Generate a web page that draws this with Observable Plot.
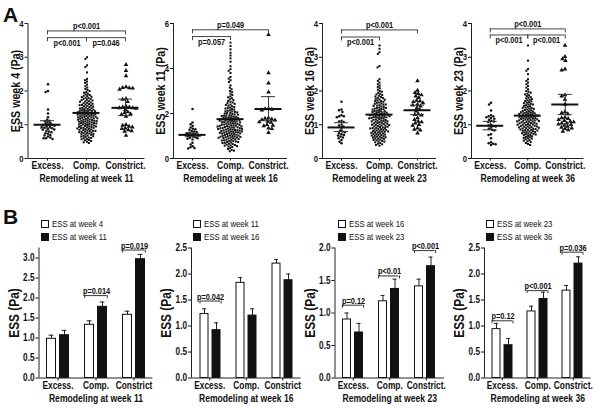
<!DOCTYPE html>
<html><head><meta charset="utf-8">
<script src="https://cdn.jsdelivr.net/npm/d3@7"></script>
<script src="https://cdn.jsdelivr.net/npm/@observablehq/plot@0.6"></script>
<style>
html,body{margin:0;padding:0;background:#fff;}
#fig{position:relative;width:600px;height:408px;overflow:hidden;background:#fff;color:#111;font-family:"Liberation Sans",Arial,sans-serif;}
#fig svg{position:absolute;}
.letter{position:absolute;font-family:"Liberation Sans",Arial,sans-serif;font-weight:bold;font-size:21px;line-height:1;}
.leg{position:absolute;font-size:9.5px;line-height:10px;height:10px;display:flex;align-items:center;white-space:nowrap;}
.leg .tx{display:inline-block;transform:scaleX(0.82);transform-origin:left center;}
.sw{display:inline-block;width:6px;height:6px;border:1px solid #111;margin-right:3px;}
</style></head><body><div id="fig"></div><script>
const FONT = '"Liberation Sans",Arial,sans-serif';
const NARROW = 0.82; // the figure uses a condensed (Arial Narrow-like) face
const catsA = ["Excess.", "Comp.", "Constrict."];

// ---------- Panel A data (ESS values per artery segment) ----------
const a1Excess = [2.2, 2.0, 1.97, 1.45, 1.33, 1.22, 1.15, 1.12, 1.1, 1.07, 1.05, 1.02, 1.0, 1.0, 0.99, 0.97, 0.95, 0.94, 0.93, 0.91, 0.9, 0.88, 0.86, 0.85, 0.82, 0.8, 0.78, 0.75, 0.73, 0.7, 0.68, 0.65, 0.62, 0.6, 0.6, 0.58];
const a1Comp = [3.0, 2.95, 2.76, 2.71, 2.55, 2.36, 2.32, 2.28, 2.24, 2.19, 2.14, 2.1, 2.06, 2.03, 2.0, 1.97, 1.95, 1.92, 1.9, 1.88, 1.86, 1.85, 1.83, 1.82, 1.8, 1.79, 1.77, 1.76, 1.74, 1.73, 1.72, 1.7, 1.69, 1.68, 1.66, 1.65, 1.64, 1.62, 1.61, 1.6, 1.59, 1.58, 1.57, 1.56, 1.55, 1.54, 1.52, 1.51, 1.5, 1.49, 1.48, 1.47, 1.46, 1.45, 1.44, 1.43, 1.42, 1.41, 1.4, 1.4, 1.39, 1.38, 1.37, 1.36, 1.35, 1.35, 1.34, 1.33, 1.32, 1.31, 1.3, 1.3, 1.29, 1.28, 1.27, 1.26, 1.25, 1.25, 1.24, 1.23, 1.22, 1.22, 1.21, 1.2, 1.19, 1.19, 1.18, 1.17, 1.16, 1.15, 1.15, 1.14, 1.13, 1.12, 1.12, 1.11, 1.1, 1.09, 1.09, 1.08, 1.07, 1.06, 1.05, 1.05, 1.04, 1.03, 1.02, 1.01, 1.01, 1.0, 0.99, 0.98, 0.97, 0.96, 0.95, 0.95, 0.94, 0.93, 0.92, 0.91, 0.91, 0.9, 0.89, 0.88, 0.87, 0.86, 0.85, 0.84, 0.83, 0.82, 0.82, 0.81, 0.8, 0.79, 0.78, 0.77, 0.76, 0.75, 0.74, 0.73, 0.72, 0.71, 0.7, 0.68, 0.67, 0.66, 0.65, 0.64, 0.62, 0.61, 0.6, 0.58, 0.57, 0.55, 0.54, 0.52, 0.5, 0.48, 0.46];
const a1Constrict = [2.78, 2.6, 2.45, 2.12, 2.1, 2.09, 2.05, 2.08, 1.77, 1.75, 1.68, 1.55, 1.52, 1.52, 1.5, 1.5, 1.48, 1.45, 1.38, 1.35, 1.32, 1.3, 1.25, 1.0, 0.98, 0.95, 0.93, 0.9, 0.88, 0.85, 0.82, 0.8, 0.68];
const a1Mean = [1.0, 1.35, 1.5], a1Lo = [0.9, 1.29, 1.27], a1Hi = [1.12, 1.42, 1.76];
const a1Brackets = [
  {from: 0, to: 2, level: 3.78, label: "p<0.001", side: "above"},
  {from: 0, to: 1, level: 3.58, label: "p<0.001", side: "below"},
  {from: 1, to: 2, level: 3.58, label: "p=0.046", side: "below"}];

const a2Excess = [2.2, 1.6, 1.52, 1.45, 1.38, 1.32, 1.3, 1.28, 1.22, 1.2, 1.18, 1.15, 1.12, 1.1, 1.08, 1.05, 1.05, 1.03, 1.02, 1.0, 0.98, 0.95, 0.92, 0.9, 0.88, 0.85, 0.7, 0.62, 0.55, 0.5, 0.47, 0.45];
const a2Comp = [5.15, 5.0, 4.85, 4.7, 4.58, 4.45, 4.3, 4.1, 3.97, 3.9, 3.8, 3.62, 3.55, 3.48, 3.4, 3.25, 3.15, 3.08, 3.0, 2.95, 2.88, 2.82, 2.76, 2.72, 2.68, 2.63, 2.6, 2.56, 2.52, 2.49, 2.46, 2.43, 2.4, 2.38, 2.35, 2.32, 2.29, 2.26, 2.24, 2.22, 2.2, 2.17, 2.14, 2.12, 2.1, 2.09, 2.07, 2.05, 2.03, 2.02, 2.0, 1.98, 1.96, 1.95, 1.93, 1.92, 1.9, 1.89, 1.88, 1.86, 1.85, 1.83, 1.82, 1.8, 1.79, 1.78, 1.76, 1.75, 1.74, 1.73, 1.71, 1.7, 1.69, 1.68, 1.67, 1.66, 1.65, 1.63, 1.62, 1.61, 1.6, 1.58, 1.57, 1.56, 1.55, 1.54, 1.52, 1.51, 1.5, 1.49, 1.48, 1.47, 1.46, 1.45, 1.44, 1.43, 1.42, 1.41, 1.4, 1.39, 1.38, 1.37, 1.36, 1.35, 1.34, 1.33, 1.32, 1.31, 1.3, 1.29, 1.28, 1.27, 1.26, 1.25, 1.24, 1.23, 1.22, 1.21, 1.2, 1.19, 1.18, 1.17, 1.16, 1.15, 1.14, 1.13, 1.12, 1.11, 1.1, 1.09, 1.08, 1.06, 1.05, 1.03, 1.02, 1.01, 1.0, 0.99, 0.98, 0.97, 0.96, 0.95, 0.94, 0.93, 0.92, 0.91, 0.9, 0.89, 0.87, 0.86, 0.84, 0.83, 0.81, 0.8, 0.78, 0.77, 0.76, 0.74, 0.73, 0.71, 0.7, 0.69, 0.66, 0.64, 0.62, 0.6, 0.58, 0.57, 0.55, 0.53, 0.51, 0.46, 0.42, 0.38, 0.35, 0.32];
const a2Constrict = [5.5, 3.8, 3.35, 2.95, 2.22, 2.2, 2.18, 2.15, 1.8, 1.78, 1.75, 1.72, 1.7, 1.65, 1.62, 1.6, 1.5, 1.47, 1.45, 1.35, 1.32, 1.15];
const a2Mean = [1.05, 1.75, 2.2], a2Lo = [0.97, 1.66, 1.68], a2Hi = [1.13, 1.84, 2.75];
const a2Brackets = [
  {from: 0, to: 2, level: 5.72, label: "p=0.049", side: "above"},
  {from: 0, to: 1, level: 5.42, label: "p=0.057", side: "below"}];

const a3Excess = [1.68, 1.45, 1.43, 1.38, 1.28, 1.25, 1.25, 1.22, 1.12, 1.1, 1.08, 1.0, 0.98, 0.95, 0.88, 0.82, 0.8, 0.78, 0.75, 0.72, 0.7, 0.68, 0.65, 0.62, 0.6, 0.55, 0.5, 0.45];
const a3Comp = [3.35, 3.25, 3.15, 3.1, 2.74, 2.7, 2.35, 2.3, 2.25, 2.2, 2.16, 2.12, 2.08, 2.04, 2.0, 1.98, 1.95, 1.92, 1.9, 1.88, 1.86, 1.84, 1.82, 1.8, 1.79, 1.77, 1.75, 1.74, 1.72, 1.7, 1.7, 1.68, 1.66, 1.65, 1.63, 1.62, 1.6, 1.6, 1.58, 1.57, 1.56, 1.54, 1.53, 1.51, 1.5, 1.5, 1.48, 1.47, 1.46, 1.45, 1.44, 1.42, 1.41, 1.4, 1.4, 1.38, 1.37, 1.36, 1.35, 1.34, 1.33, 1.32, 1.31, 1.3, 1.3, 1.29, 1.28, 1.27, 1.26, 1.25, 1.25, 1.24, 1.23, 1.22, 1.21, 1.2, 1.2, 1.19, 1.18, 1.17, 1.16, 1.15, 1.14, 1.13, 1.12, 1.11, 1.1, 1.1, 1.09, 1.08, 1.07, 1.06, 1.05, 1.04, 1.03, 1.02, 1.01, 1.0, 1.0, 0.99, 0.98, 0.97, 0.96, 0.95, 0.94, 0.93, 0.92, 0.91, 0.9, 0.9, 0.89, 0.88, 0.87, 0.86, 0.85, 0.84, 0.83, 0.82, 0.81, 0.8, 0.8, 0.79, 0.78, 0.77, 0.76, 0.75, 0.74, 0.73, 0.72, 0.71, 0.7, 0.69, 0.68, 0.67, 0.66, 0.65, 0.64, 0.63, 0.62, 0.61, 0.6, 0.59, 0.58, 0.56, 0.55, 0.54, 0.52, 0.51, 0.5, 0.48, 0.46, 0.44, 0.42, 0.4, 0.38];
const a3Constrict = [2.3, 2.02, 1.95, 1.92, 1.88, 1.85, 1.8, 1.72, 1.7, 1.68, 1.65, 1.6, 1.58, 1.55, 1.5, 1.45, 1.4, 1.32, 1.3, 1.28, 1.2, 1.15, 1.1, 1.08, 1.05, 1.0, 0.98, 0.9, 0.86, 0.84, 0.75];
const a3Mean = [0.92, 1.3, 1.43], a3Lo = [0.8, 1.22, 1.3], a3Hi = [1.06, 1.38, 1.58];
const a3Brackets = [
  {from: 0, to: 2, level: 3.81, label: "p<0.001", side: "above"},
  {from: 0, to: 1, level: 3.6, label: "p<0.001", side: "below"}];

const a4Excess = [1.65, 1.6, 1.42, 1.28, 1.25, 1.25, 1.22, 1.2, 1.18, 1.15, 1.12, 1.1, 1.08, 1.0, 0.98, 0.96, 0.95, 0.92, 0.88, 0.85, 0.83, 0.72, 0.7, 0.6, 0.48, 0.45, 0.44, 0.42, 0.4];
const a4Comp = [3.35, 2.9, 2.65, 2.6, 2.5, 2.35, 2.3, 2.25, 2.2, 2.15, 2.1, 2.05, 2.0, 1.98, 1.95, 1.92, 1.9, 1.87, 1.85, 1.82, 1.8, 1.78, 1.76, 1.74, 1.72, 1.7, 1.69, 1.67, 1.65, 1.64, 1.62, 1.6, 1.6, 1.58, 1.56, 1.55, 1.53, 1.51, 1.5, 1.5, 1.48, 1.47, 1.45, 1.44, 1.43, 1.41, 1.4, 1.39, 1.38, 1.37, 1.36, 1.35, 1.34, 1.33, 1.32, 1.31, 1.3, 1.3, 1.29, 1.28, 1.27, 1.26, 1.25, 1.25, 1.24, 1.23, 1.22, 1.21, 1.2, 1.2, 1.19, 1.18, 1.17, 1.16, 1.15, 1.15, 1.14, 1.13, 1.13, 1.12, 1.11, 1.1, 1.1, 1.09, 1.08, 1.07, 1.06, 1.05, 1.05, 1.04, 1.03, 1.02, 1.01, 1.0, 1.0, 0.99, 0.98, 0.97, 0.96, 0.95, 0.95, 0.94, 0.93, 0.92, 0.91, 0.9, 0.9, 0.89, 0.88, 0.87, 0.86, 0.85, 0.85, 0.84, 0.83, 0.82, 0.81, 0.8, 0.79, 0.78, 0.77, 0.76, 0.75, 0.74, 0.73, 0.72, 0.71, 0.7, 0.69, 0.67, 0.66, 0.64, 0.63, 0.61, 0.6, 0.59, 0.57, 0.55, 0.53, 0.51, 0.49, 0.46, 0.43, 0.4];
const a4Constrict = [3.35, 3.02, 2.95, 2.9, 2.65, 2.62, 1.88, 1.85, 1.75, 1.6, 1.38, 1.35, 1.32, 1.22, 1.2, 1.18, 1.15, 1.12, 1.1, 1.08, 1.05, 1.05, 1.02, 1.0, 0.98, 0.95, 0.92, 0.9, 0.88, 0.85, 0.8];
const a4Mean = [0.97, 1.27, 1.6], a4Lo = [0.85, 1.2, 1.3], a4Hi = [1.1, 1.35, 1.9];
const a4Brackets = [
  {from: 0, to: 2, level: 3.84, label: "p<0.001", side: "above"},
  {from: 0, to: 1, level: 3.66, label: "p<0.001", side: "below"},
  {from: 1, to: 2, level: 3.66, label: "p<0.001", side: "below"}];

// ---------- Panel B data (mean ESS + SEM) ----------
const b1Cats = ["Excess.", "Comp.", "Constrict"];
const b1Series = ["ESS at week 4", "ESS at week 11"];
const b1Prev = [0.98, 1.33, 1.58], b1PrevErr = [0.09, 0.1, 0.09];
const b1Next = [1.07, 1.78, 2.97], b1NextErr = [0.12, 0.12, 0.12];
const b1Brackets = [{cat: "Comp.", level: 2.06, label: "p=0.014"}, {cat: "Constrict", level: 3.2, label: "p=0.019"}];

const b2Cats = ["Excess.", "Comp.", "Constrict"];
const b2Series = ["ESS at week 11", "ESS at week 16"];
const b2Prev = [1.23, 1.83, 2.2], b2PrevErr = [0.1, 0.1, 0.08];
const b2Next = [0.92, 1.2, 1.88], b2NextErr = [0.14, 0.13, 0.12];
const b2Brackets = [{cat: "Excess.", level: 1.48, label: "p=0.042"}];

const b3Cats = ["Excess.", "Comp.", "Constrict."];
const b3Series = ["ESS at week 16", "ESS at week 23"];
const b3Prev = [0.9, 1.18, 1.41], b3PrevErr = [0.1, 0.09, 0.11];
const b3Next = [0.7, 1.37, 1.72], b3NextErr = [0.14, 0.15, 0.14];
const b3Brackets = [{cat: "Excess.", level: 1.12, label: "p=0.12"}, {cat: "Comp.", level: 1.57, label: "p<0.01"}, {cat: "Constrict.", level: 1.96, label: "p<0.001"}];

const b4Cats = ["Excess.", "Comp.", "Constrict."];
const b4Series = ["ESS at week 23", "ESS at week 36"];
const b4Prev = [0.94, 1.28, 1.68], b4PrevErr = [0.11, 0.1, 0.1];
const b4Next = [0.63, 1.52, 2.2], b4NextErr = [0.13, 0.13, 0.13];
const b4Brackets = [{cat: "Excess.", level: 1.1, label: "p=0.12"}, {cat: "Comp.", level: 1.68, label: "p<0.001"}, {cat: "Constrict.", level: 2.42, label: "p=0.036"}];

// ---------- layout ----------
const fig = document.getElementById("fig");
const st = () => ({fontFamily: FONT, fontWeight: "bold", background: "transparent", overflow: "visible", color: "#111"});
function place(el, left, top) {
  el.style.left = left + "px"; el.style.top = top + "px"; fig.appendChild(el);
  // condense every label horizontally (the original uses an Arial Narrow-like face)
  el.querySelectorAll("text").forEach(t => {
    const tr = t.getAttribute("transform");
    if (tr) t.setAttribute("transform", tr + ` scale(${NARROW},1)`);
    else {
      const w = t.getComputedTextLength();
      if (w > 0) { t.setAttribute("textLength", w * NARROW); t.setAttribute("lengthAdjust", "spacingAndGlyphs"); }
    }
  });
}

function drawA(p) {
  const W = 150, H = 190, mT = 23, mB = 32;
  const mL = p.start - p.left, mR = W - mL - 3 * p.bw;
  const dims = {width: W, height: H, marginTop: mT, marginBottom: mB, marginLeft: mL, marginRight: mR};
  const stats = p.mean.map((m, i) => ({i, m, lo: p.lo[i], hi: p.hi[i]}));
  const swarm = (vals, cat, symbol, r) => Plot.dot(vals, Plot.dodgeX({anchor: "middle", padding: 0.05},
    {fx: () => cat, y: d => d, r, symbol, fill: "#111", stroke: "none"}));
  const dots = Plot.plot({...dims, style: st(),
    fx: {domain: catsA, padding: 0, axis: null},
    y: {domain: [0, p.ymax], axis: null},
    marks: [swarm(p.excess, catsA[0], "circle", 1.25), swarm(p.comp, catsA[1], "square", 1.15), swarm(p.constrict, catsA[2], "triangle", 1.7)]});
  const above = p.brackets.filter(d => d.side === "above"), below = p.brackets.filter(d => d.side === "below");
  const base = Plot.plot({...dims, style: st(),
    x: {domain: [-0.5, 2.5]}, y: {domain: [0, p.ymax]},
    marks: [
      Plot.ruleY([0], {stroke: "#222"}),
      Plot.ruleX([-0.5], {stroke: "#222"}),
      Plot.axisY({ticks: p.yticks, tickFormat: d3.format("d"), tickSize: 3, tickPadding: 1.5, fontSize: 9.5, label: null}),
      Plot.axisX({ticks: [0, 1, 2], tickFormat: i => catsA[i], tickSize: 2.5, tickPadding: 0.5, fontSize: 10.5, label: null}),
      Plot.ruleX(stats, {x: "i", y1: "lo", y2: "hi", stroke: "#333"}),
      Plot.ruleY(stats, {x1: "i", x2: "i", y: "hi", insetLeft: -7, insetRight: -7, stroke: "#333"}),
      Plot.ruleY(stats, {x1: "i", x2: "i", y: "lo", insetLeft: -7, insetRight: -7, stroke: "#333"}),
      Plot.ruleY(stats, {x1: "i", x2: "i", y: "m", insetLeft: -13.5, insetRight: -13.5, strokeWidth: 2, stroke: "#111"}),
      Plot.ruleY(p.brackets, {x1: "from", x2: "to", y: "level", stroke: "#444"}),
      Plot.ruleX(p.brackets, {x: "from", y1: "level", y2: "level", insetBottom: -4, stroke: "#444"}),
      Plot.ruleX(p.brackets, {x: "to", y1: "level", y2: "level", insetBottom: -4, stroke: "#444"}),
      Plot.text(above, {x: d => (d.from + d.to) / 2, y: "level", text: "label", lineAnchor: "bottom", dy: -1.5, fontSize: 9, fill: "#111"}),
      Plot.text(below, {x: d => (d.from + d.to) / 2, y: "level", text: "label", lineAnchor: "top", dy: 2, fontSize: 9, fill: "#111"}),
      Plot.text([p.xlabel], {text: d => d, frameAnchor: "bottom", textAnchor: "middle", lineAnchor: "middle", dy: 20, fontSize: 10.5}),
      Plot.text([p.ylabel], {text: d => d, frameAnchor: "left", textAnchor: "middle", lineAnchor: "middle", rotate: -90, dx: -12.5, fontSize: 13})
    ]});
  place(dots, p.left, 0);
  place(base, p.left, 0);
}

function drawB(p) {
  const W = 155, H = 208, mT = 47.5, mB = 30.5, top = 200;
  const mL = p.start - p.left, mR = W - mL - 3 * p.bw;
  const dims = {width: W, height: H, marginTop: mT, marginBottom: mB, marginLeft: mL, marginRight: mR};
  const pIn = 0.3, pOut = 0.55;
  const barW = p.bw / (2 - pIn + 2 * pOut) * (1 - pIn);
  const rows = p.cats.flatMap((c, i) => [
    {cat: c, s: "a", v: p.prev[i], e: p.prevErr[i]},
    {cat: c, s: "b", v: p.next[i], e: p.nextErr[i]}]);
  const bars = Plot.plot({...dims, style: st(),
    fx: {domain: p.cats, padding: 0, axis: null},
    x: {domain: ["a", "b"], paddingInner: pIn, paddingOuter: pOut, axis: null},
    y: {domain: [0, p.ymax], axis: null},
    color: {domain: ["a", "b"], range: ["#ffffff", "#111111"]},
    marks: [
      Plot.ruleX(rows, {fx: "cat", x: "s", y1: "v", y2: d => d.v + d.e, stroke: "#222"}),
      Plot.ruleY(rows, {fx: "cat", x1: "s", x2: "s", y: d => d.v + d.e, insetLeft: barW * 0.22, insetRight: barW * 0.22, stroke: "#222"}),
      Plot.barY(rows, {fx: "cat", x: "s", y: "v", fill: "s", stroke: "#111", strokeWidth: 1}),
      Plot.ruleY(p.brackets, {fx: "cat", x1: () => "a", x2: () => "b", y: "level", stroke: "#333"}),
      Plot.ruleX(p.brackets, {fx: "cat", x: () => "a", y1: "level", y2: "level", insetBottom: -3, dx: -barW / 2, stroke: "#333"}),
      Plot.ruleX(p.brackets, {fx: "cat", x: () => "b", y1: "level", y2: "level", insetBottom: -3, dx: barW / 2, stroke: "#333"}),
      Plot.text(p.brackets, {fx: "cat", y: "level", text: "label", lineAnchor: "bottom", dy: -1.5, fontSize: 9, fill: "#111"})
    ]});
  const base = Plot.plot({...dims, style: st(),
    x: {domain: [-0.5, 2.5]}, y: {domain: [0, p.ymax]},
    marks: [
      Plot.ruleY([0], {stroke: "#222"}),
      Plot.ruleX([-0.5], {stroke: "#222"}),
      Plot.axisY({ticks: p.yticks, tickFormat: d3.format(".1f"), tickSize: 3, tickPadding: 1.5, fontSize: 10, label: null}),
      Plot.axisX({ticks: [0, 1, 2], tickFormat: i => p.cats[i], tickSize: 3, tickPadding: 1, fontSize: 10.2, label: null}),
      Plot.text([p.xlabel], {text: d => d, frameAnchor: "bottom", textAnchor: "middle", lineAnchor: "middle", dy: 21, fontSize: 10.5}),
      Plot.text(["ESS (Pa)"], {text: d => d, frameAnchor: "left", textAnchor: "middle", lineAnchor: "middle", rotate: -90, dx: -25, fontSize: 14.5})
    ]});
  place(bars, p.left, top);
  place(base, p.left, top);
  p.series.forEach((s, j) => {
    const row = document.createElement("div");
    row.className = "leg";
    row.style.left = p.legX + "px";
    row.style.top = (219 + j * 13) + "px";
    const sw = document.createElement("span");
    sw.className = "sw";
    sw.style.background = j === 0 ? "#fff" : "#111";
    const tx = document.createElement("span");
    tx.className = "tx";
    tx.textContent = s;
    row.appendChild(sw);
    row.appendChild(tx);
    fig.appendChild(row);
  });
}

drawA({left: 0, start: 27.5, bw: 39, ymax: 4, yticks: [0, 1, 2, 3, 4], excess: a1Excess, comp: a1Comp, constrict: a1Constrict, mean: a1Mean, lo: a1Lo, hi: a1Hi, brackets: a1Brackets, ylabel: "ESS week 4 (Pa)", xlabel: "Remodeling at week 11"});
drawA({left: 145, start: 173, bw: 38, ymax: 6, yticks: [0, 2, 4, 6], excess: a2Excess, comp: a2Comp, constrict: a2Constrict, mean: a2Mean, lo: a2Lo, hi: a2Hi, brackets: a2Brackets, ylabel: "ESS week 11 (Pa)", xlabel: "Remodeling at week 16"});
drawA({left: 295, start: 322, bw: 38, ymax: 4, yticks: [0, 1, 2, 3, 4], excess: a3Excess, comp: a3Comp, constrict: a3Constrict, mean: a3Mean, lo: a3Lo, hi: a3Hi, brackets: a3Brackets, ylabel: "ESS week 16 (Pa)", xlabel: "Remodeling at week 23"});
drawA({left: 445, start: 471, bw: 37.5, ymax: 4, yticks: [0, 1, 2, 3, 4], excess: a4Excess, comp: a4Comp, constrict: a4Constrict, mean: a4Mean, lo: a4Lo, hi: a4Hi, brackets: a4Brackets, ylabel: "ESS week 23 (Pa)", xlabel: "Remodeling at week 36"});

drawB({left: 0, start: 38.5, bw: 38, ymax: 3.25, yticks: [0, 0.5, 1, 1.5, 2, 2.5, 3], cats: b1Cats, series: b1Series, prev: b1Prev, prevErr: b1PrevErr, next: b1Next, nextErr: b1NextErr, brackets: b1Brackets, xlabel: "Remodeling at week 11", legX: 41});
drawB({left: 145, start: 191, bw: 36.5, ymax: 2.5, yticks: [0, 0.5, 1, 1.5, 2, 2.5], cats: b2Cats, series: b2Series, prev: b2Prev, prevErr: b2PrevErr, next: b2Next, nextErr: b2NextErr, brackets: b2Brackets, xlabel: "Remodeling at week 16", legX: 193});
drawB({left: 295, start: 334.5, bw: 36.5, ymax: 2.0, yticks: [0, 0.5, 1, 1.5, 2], cats: b3Cats, series: b3Series, prev: b3Prev, prevErr: b3PrevErr, next: b3Next, nextErr: b3NextErr, brackets: b3Brackets, xlabel: "Remodeling at week 23", legX: 338});
drawB({left: 445, start: 484, bw: 35.5, ymax: 2.5, yticks: [0, 0.5, 1, 1.5, 2, 2.5], cats: b4Cats, series: b4Series, prev: b4Prev, prevErr: b4PrevErr, next: b4Next, nextErr: b4NextErr, brackets: b4Brackets, xlabel: "Remodeling at week 36", legX: 486});

for (const [t, x, y] of [["A", 3, 4], ["B", 3, 206]]) {
  const d = document.createElement("div");
  d.className = "letter"; d.textContent = t; d.style.left = x + "px"; d.style.top = y + "px";
  fig.appendChild(d);
}
</script></body></html>
